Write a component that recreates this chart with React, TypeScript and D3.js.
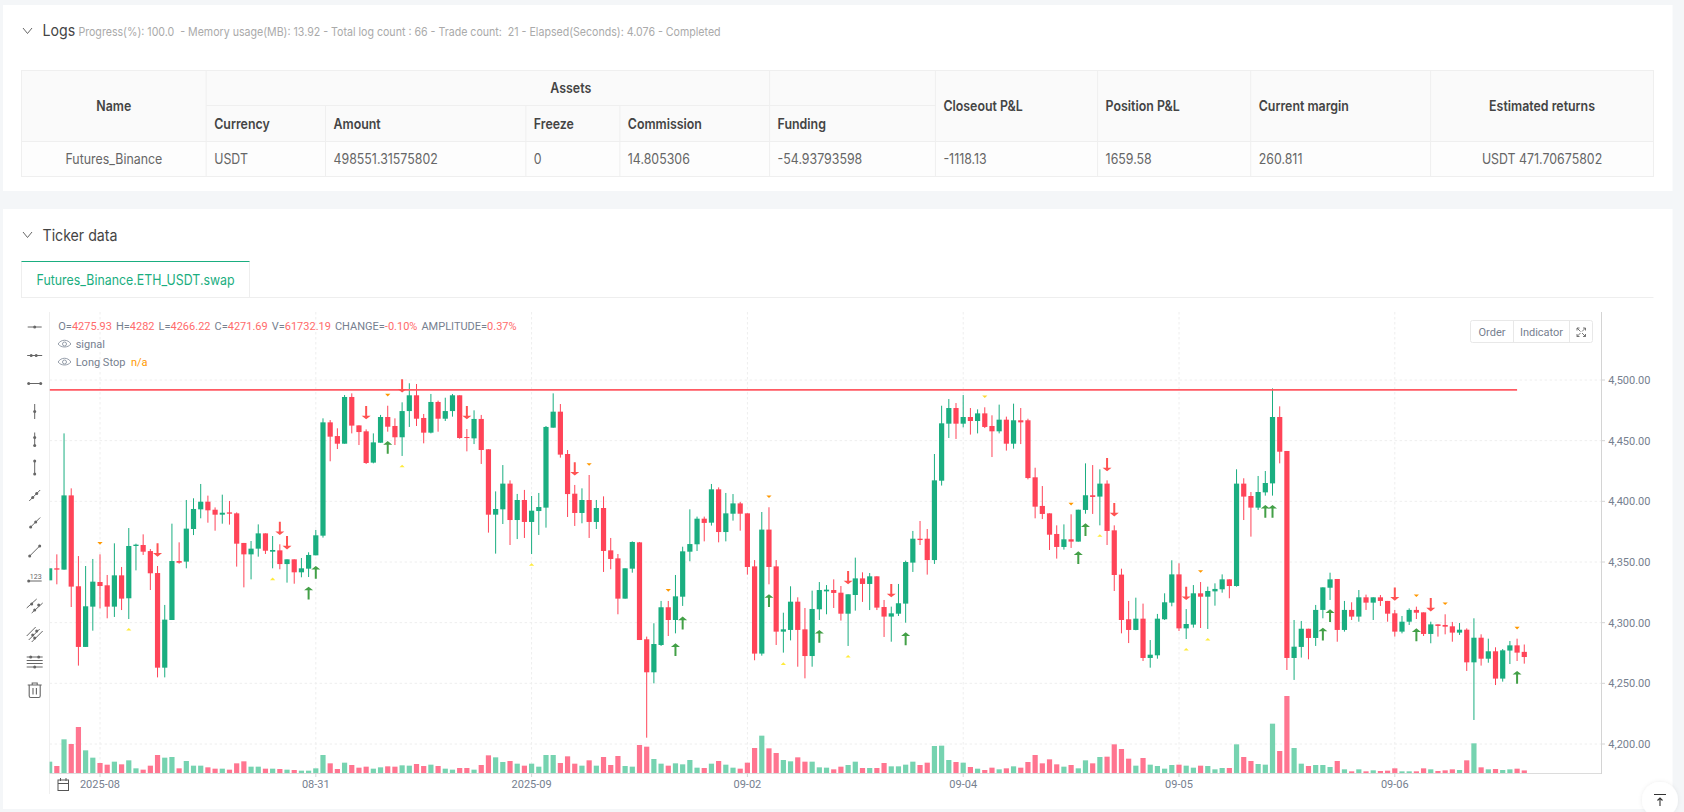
import React, { useEffect } from "react";
import * as d3 from "d3";

const opens = [
4334.9,4344.8,4343.7,4404.9,4330.0,4280.0,4313.2,4333.5,4330.8,4313.2,
4339.0,4320.1,4363.2,4364.0,4359.0,4340.9,4262.9,4302.2,4350.8,4350.3,
4377.2,4393.4,4399.7,4393.1,4389.0,4390.9,4390.1,4365.7,4356.3,4361.0,
4373.6,4358.5,4359.6,4348.3,4352.2,4341.5,4344.5,4355.5,4371.7,4465.1,
4453.8,4447.5,4486.0,4462.6,4457.7,4431.9,4448.3,4469.5,4462.1,4452.8,
4474.4,4487.4,4468.7,4456.6,4481.9,4468.1,4474.4,4487.4,4453.0,4451.9,
4467.9,4442.9,4389.0,4393.4,4414.6,4384.6,4401.1,4383.0,4392.0,4394.8,
4460.7,4473.9,4439.0,4406.3,4390.4,4401.1,4383.0,4394.5,4359.6,4353.0,
4319.8,4344.5,4366.2,4286.3,4259.1,4281.6,4312.7,4302.2,4321.4,4358.5,
4364.6,4385.7,4382.4,4409.9,4374.7,4389.8,4398.3,4390.1,4346.4,4274.5,
4376.7,4346.4,4292.6,4294.0,4317.3,4294.5,4272.5,4311.0,4325.8,4326.9,
4324.7,4307.4,4322.8,4336.5,4331.9,4338.2,4312.9,4305.0,4307.4,4315.7,
4349.5,4369.2,4369.2,4351.6,4417.0,4464.0,4476.9,4464.0,4469.5,4466.2,
4472.5,4462.1,4457.7,4467.3,4447.5,4466.8,4466.8,4419.8,4396.2,4390.1,
4373.1,4362.4,4368.7,4366.8,4392.9,4405.0,4403.9,4414.6,4376.1,4339.6,
4302.8,4294.0,4303.3,4270.9,4273.1,4302.8,4316.5,4339.8,4295.3,4298.4,
4324.2,4321.4,4325.8,4327.5,4335.7,4330.2,4414.6,4404.4,4394.8,4407.4,
4414.8,4469.5,4441.5,4270.9,4280.0,4295.0,4287.4,4310.5,4328.8,4336.0,
4294.0,4310.5,4305.0,4320.9,4316.5,4320.9,4317.9,4307.7,4292.6,4300.8,
4310.5,4308.5,4290.7,4298.6,4298.1,4297.0,4291.8,4294.2,4267.3,4287.6,
4270.3,4276.4,4253.9,4277.0,4281.3,4275.93];

const closes = [
4344.8,4343.7,4404.9,4329.7,4280,4313.5,4333.8,4330.2,4313.2,4339,
4319.8,4363.2,4364.3,4358.5,4340.7,4262.9,4302.5,4350.8,4349.4,4377.5,
4393.7,4399.7,4392.6,4389,4390.6,4389.8,4365.1,4356.3,4361,4373.6,
4359.3,4359.9,4348.3,4352.2,4341.5,4344.8,4355.8,4372,4465.1,4453.3,
4447.5,4486,4462.4,4457.1,4431.6,4448.6,4469.5,4461.5,4452.8,4474.4,
4487.4,4468.1,4456.6,4481.9,4468.1,4474.4,4487.4,4452.2,4452.2,4467.9,
4442.3,4389,4393.7,4414.6,4384.6,4401.1,4383,4392.3,4395.3,4461.3,
4473.9,4438.5,4406,4390.4,4401.1,4383,4394.5,4359.1,4352.5,4319.8,
4344.8,4366.5,4285.7,4259.1,4282.4,4312.7,4302.2,4321.7,4358.8,4364.8,
4385.7,4382.2,4409.9,4374.7,4390.1,4398.3,4389.8,4345.9,4274.5,4376.7,
4345.9,4292.6,4294.5,4317.3,4294,4272.5,4311.3,4326.9,4327.2,4324.5,
4307.4,4323.4,4336.5,4331.9,4338.2,4312.4,4305,4307.7,4316,4350,
4369.2,4368.1,4351.6,4417.3,4464.3,4476.9,4464,4469.5,4466.2,4472.5,
4461.3,4457.7,4467.3,4447.5,4466.8,4465.1,4419.2,4395.6,4389.6,4372.5,
4362.4,4368.7,4366.8,4393.1,4405,4403.6,4414.6,4375.6,4339.3,4302.2,
4294,4303.3,4270.9,4273.6,4303.3,4316.8,4339.8,4295.3,4298.9,4324.2,
4321.4,4326.1,4327.8,4335.7,4330.2,4414.6,4403.9,4394.8,4407.7,4415.1,
4469.5,4440.9,4270.9,4280.2,4295,4287.4,4310.5,4329.1,4335.7,4294,
4310.5,4305,4320.9,4316.5,4320.9,4317.9,4307.4,4292.6,4300.8,4310.5,
4308.2,4290.7,4298.6,4297.3,4296.7,4291.8,4294.2,4267.3,4287.6,4270.3,
4276.4,4253.9,4277.2,4281.3,4275.3,4271.69];

const highs = [
4344.8,4356.3,4456,4410.7,4354.9,4346.7,4352.5,4356.3,4339.3,4365.4,
4345.9,4378,4365.1,4372.8,4360.7,4346.7,4314.6,4381.6,4366.2,4401.1,
4402.5,4414.3,4404.7,4395,4405.5,4400.3,4390.9,4365.7,4367.3,4381,
4373.6,4371.4,4364.6,4352.2,4352.2,4353.3,4358,4376.4,4468.4,4467,
4460.2,4487.6,4489,4462.6,4459.3,4456,4471.2,4478.8,4468.4,4481.6,
4497.3,4496.7,4472,4488.5,4483,4485.4,4488.5,4487.4,4459.6,4475,
4471.2,4442.9,4408.2,4429.9,4417.3,4406.1,4409.4,4404.4,4406.9,4462.1,
4489,4480.2,4442.3,4413.5,4410.7,4421.7,4401.1,4404.1,4369.8,4356.6,
4344.8,4367,4366.5,4288.5,4299.5,4317.9,4317.9,4339.3,4362.6,4393.4,
4387.4,4387.4,4414.3,4411.5,4406.9,4406,4399.5,4390.1,4351.6,4391.2,
4395.1,4351.6,4308.2,4330,4320.9,4312.1,4326.4,4333.5,4331,4335.7,
4330.2,4323.4,4353.6,4341.5,4340.9,4338.2,4318.7,4313.2,4331.9,4351.1,
4375.6,4383.8,4377.2,4439,4478.8,4484.3,4481,4487.6,4476.9,4475.8,
4477.5,4470.9,4479.7,4469.8,4480.5,4476.9,4468.1,4427.7,4412.6,4390.1,
4380.2,4381,4389.3,4393.1,4431.3,4429.9,4426.4,4417.3,4380.2,4344.5,
4317.9,4320.6,4315.7,4285.7,4307.2,4324.2,4351.4,4348.9,4311.2,4331,
4333.5,4329.7,4332.4,4339.8,4335.7,4426.4,4419,4407.7,4420.9,4425,
4493.1,4478.3,4441.5,4302.2,4301.4,4295,4314.6,4329.1,4341.2,4336,
4317.9,4316.8,4326.9,4323.1,4320.9,4322.8,4317.9,4310.5,4305.5,4311.8,
4313.2,4308.5,4300.8,4298.6,4306.9,4300.6,4299.7,4295.3,4303.6,4290.4,
4286.8,4279.7,4278.3,4284.9,4286.8,4282];

const lows = [
4334.9,4331.6,4343.7,4312.9,4264.6,4280,4293.4,4311.8,4303.6,4304.7,
4310.4,4303,4343.1,4355.8,4326.9,4254.9,4254.9,4302.2,4348.6,4344.8,
4372.2,4386,4382.4,4375.8,4381.6,4380.8,4346.2,4329.1,4335.7,4354.4,
4356.6,4344.8,4344,4333,4332.1,4337.4,4337.6,4355.5,4370.1,4433,
4443.1,4447.5,4456,4446.4,4430.8,4431.3,4448.3,4457.4,4446.4,4437.4,
4461.3,4462.1,4447.8,4456,4457.4,4466.2,4469.8,4451.6,4441.2,4447.2,
4430.8,4374.2,4356.9,4381.3,4364,4368.9,4369.8,4356.6,4372.3,4378.3,
4460.7,4436,4387.1,4379.7,4381.9,4369.8,4377.2,4341.8,4344,4306.9,
4319.8,4341.2,4285.7,4205.2,4250,4280.8,4289,4291.2,4313.8,4350.6,
4359.1,4367,4380,4366.2,4367,4384.1,4375.8,4339.6,4269,4272.8,
4331.6,4281.6,4275.3,4285.4,4263.7,4254.1,4263.7,4302.2,4306.9,4312.1,
4301.7,4280.8,4309.9,4317.1,4310.4,4310.4,4288.2,4284.3,4305.5,4300,
4341.8,4364,4339.6,4348.4,4413,4452.2,4451.4,4461,4455,4456,
4460.4,4436.5,4456,4441.8,4443.4,4447.2,4418.1,4386,4385.4,4359.9,
4352.8,4360.2,4361.6,4366.8,4389.8,4389.6,4380.2,4364,4326.1,4291.2,
4283.2,4293.7,4268.4,4262.9,4270.3,4302.2,4313.5,4293.1,4286.5,4295.9,
4295.6,4294.8,4314,4324.7,4320.1,4329.7,4384.6,4370.9,4392.9,4404.7,
4404.7,4431.3,4261,4252.8,4271.2,4269.8,4280.8,4303.6,4318.7,4284.3,
4292.6,4302.2,4300.8,4310.5,4302.2,4313.8,4300.8,4288.5,4291.2,4298.1,
4303,4289,4283,4288.5,4290.4,4284.3,4289.9,4260.2,4219.8,4264.6,
4267,4248.6,4251.4,4265.9,4268.4,4266.22];

// thousands
const volumes = [
272,168,808,696,1104,544,368,240,200,272,
208,304,112,80,176,432,368,384,112,288,
176,176,136,104,104,80,232,280,152,152,
104,104,96,80,72,56,56,112,432,232,
96,248,192,128,152,104,136,160,152,184,
176,216,168,200,168,104,80,120,120,80,
192,424,376,264,288,224,176,224,152,432,
432,240,400,224,176,304,176,384,192,408,
168,152,672,632,336,224,176,232,208,312,
128,120,224,288,200,128,104,248,600,896,
592,480,312,280,376,272,272,136,128,88,
152,192,272,120,120,120,240,160,160,200,
272,192,248,648,656,312,264,248,144,104,
72,128,88,112,160,128,264,432,232,328,
208,152,192,112,304,232,384,392,688,576,
344,176,360,200,168,104,192,200,176,128,
176,168,88,120,120,688,384,288,216,200,
1184,528,1848,600,224,168,192,192,144,288,
88,40,88,40,64,48,56,112,40,40,
40,112,88,48,64,88,72,304,712,136,
88,96,72,88,104,62];

const downArrows: [number, number][] = [[15,4354.4],[32,4372.2],[33,4360.4],[44,4467.6],[49,4489.6],[58,4467.6],[73,4421.2],[111,4331.6],[117,4320.9],[147,4424.7],[148,4387.6],[158,4318.7],[187,4318.1],[192,4309.3]];
const upArrows: [number, number][] = [[36,4329.7],[37,4346.7],[47,4449.7],[87,4283],[88,4305],[100,4323.4],[107,4294],[119,4292],[143,4358.8],[144,4381.9],[169,4397],[170,4397],[177,4295.9],[178,4311],[190,4295.3],[204,4260.2]];
const orangeMarks: [number, number][] = [[7,4365.4],[47,4487.6],[75,4430.5],[86,4326.7],[100,4403.8],[142,4397.8],[160,4342.3],[190,4322.3],[194,4315.7],[204,4295.6]];
const goldMarks: [number, number][] = [[130,4486.3]];
const yellowMarks: [number, number][] = [[11,4294.5],[31,4336],[49,4429.1],[67,4347.8],[102,4266.2],[111,4272.3],[146,4371.7],[158,4278],[161,4286.3]];
const longStopPrice = 4491.8;
const longStopEnd = 204;

const priceTicks = [4200, 4250, 4300, 4350, 4400, 4450, 4500];
const timeTicks: [number, string][] = [[7,"2025-08"],[37,"08-31"],[67,"2025-09"],[97,"09-02"],[127,"09-04"],[157,"09-05"],[187,"09-06"]];

const legendPairs: [string, string][] = [["O=","4275.93"],["H=","4282"],["L=","4266.22"],["C=","4271.69"],["V=","61732.19"],["CHANGE=","-0.10%"],["AMPLITUDE=","0.37%"]];

const tableColumns = [21.5, 206.2, 325.5, 525.8, 619.8, 769.6, 935.4, 1097.6, 1250.7, 1430.6, 1653.5];
const subHeaders = ["Currency", "Amount", "Freeze", "Commission", "Funding"];
const rowCells = ["USDT", "498551.31575802", "0", "14.805306", "-54.93793598", "-1118.13", "1659.58", "260.811"];
const sideHeaders = ["Closeout P&L", "Position P&L", "Current margin"];

const UP = "#1aae80", DOWN = "#ff4458", UPV = "#76d3b0", DOWNV = "#ff7590";
const AXIS = "#76808f", GRID = "#eeeeee";
const F = "Inter, sans-serif", R = "Roboto, sans-serif";

const x = d3.scaleLinear().domain([7, 187]).range([100, 1394.8]);
const y = d3.scaleLinear().domain([4200, 4500]).range([744, 380]);
const yVol = d3.scaleLinear().domain([0, 2400]).range([773, 673]);
const fmtPrice = d3.format(",.2f");

// The page text is a narrowed Inter: same height, 0.885 of the width.
function T({ x: tx, y: ty, anchor, children, ...rest }: any) {
  return (
    <text transform={`translate(${tx},${ty}) scale(0.885,1)`} textAnchor={anchor} {...rest}>{children}</text>
  );
}

function Tool({ kind, cy }: { kind: number; cy: number }) {
  const c = "#666";
  const dot = (dx: number, dy: number, k: number) => <circle key={k} cx={dx} cy={dy} r={1.5} fill={c} />;
  const ln = (a: number, b: number, e: number, f: number, k: number, w = 1) => <line key={k} x1={a} y1={b} x2={e} y2={f} stroke={c} strokeWidth={w} />;
  let kids: any[] = [];
  if (kind === 0) kids = [ln(-7, 0, 7, 0, 0), dot(0, 0, 1)];
  if (kind === 1) kids = [ln(-7.5, 0, 7.5, 0, 0), dot(-3.5, 0, 1), dot(1.5, 0, 2)];
  if (kind === 2) kids = [ln(-6, 0, 6, 0, 0), dot(-6, 0, 1), dot(6, 0, 2)];
  if (kind === 3) kids = [ln(0, -7.5, 0, 7.5, 0), dot(0, 0, 1)];
  if (kind === 4) kids = [ln(0, -7, 0, 7, 0), dot(0, -2, 1), dot(0, 6, 2)];
  if (kind === 5) kids = [ln(0, -6.5, 0, 6.5, 0), dot(0, -6.5, 1), dot(0, 6.5, 2)];
  if (kind === 6) kids = [ln(-5.5, 5.5, 5.5, -5.5, 0), dot(-2, 2, 1), dot(2, -2, 2)];
  if (kind === 7) kids = [ln(-5, 5, 5.5, -5.5, 0), dot(-4, 4, 1), dot(1, -1, 2)];
  if (kind === 8) kids = [ln(-5, 5, 5, -5, 0), dot(-5, 5, 1), dot(5, -5, 2)];
  if (kind === 9) kids = [ln(-6, 3, 7, 3, 0), dot(-6, 3, 1), <text key={2} x={1} y={1} fontSize={7} textAnchor="middle" fontFamily={R} fill={c}>123</text>];
  if (kind === 10) kids = [ln(-8, 2, 2, -7, 0), ln(-3, 7, 8, -3, 1), dot(-3, -2, 2), dot(4, -1, 3), dot(0, 4, 4)];
  if (kind === 11) kids = [ln(-8, 2, 1, -7, 0), ln(-6, 6, 5, -5, 1), ln(-3, 8, 8, -3, 2), dot(-2, 1, 3), dot(2, -3, 4), dot(0, 4, 5)];
  if (kind === 12) kids = [ln(-8, -5, 8, -5, 0), ln(-8, -1.5, 8, -1.5, 1), ln(-8, 1.5, 8, 1.5, 2), ln(-8, 5, 8, 5, 3), dot(-4, -5, 4), dot(4, -5, 5), dot(0, 5, 6)];
  if (kind === 13) kids = [
    <path key={0} d="M-7 -5H7M-2.5 -5V-7H2.5V-5M-5.5 -5V6a1.5 1.5 0 0 0 1.5 1.5H4a1.5 1.5 0 0 0 1.5 -1.5V-5M-1.7 -2V4.5M1.7 -2V4.5" fill="none" stroke={c} strokeWidth={1.1} />,
  ];
  return <g transform={`translate(34.7,${cy})`}>{kids}</g>;
}

function Eye({ cx, cy }: { cx: number; cy: number }) {
  return (
    <g transform={`translate(${cx},${cy})`} fill="none" stroke="#8a93a0" strokeWidth={0.9}>
      <path d="M-6.4 0C-3.5 -5 3.5 -5 6.4 0C3.5 4 -3.5 4 -6.4 0Z" />
      <circle r={2} />
    </g>
  );
}

export default function App() {
  useEffect(() => { document.body.style.margin = "0"; }, []);
  const tcx = (a: number, b: number) => (tableColumns[a] + tableColumns[b]) / 2;
  return (
    <svg width={1684} height={812} viewBox="0 0 1684 812" style={{ display: "block", position: "fixed", left: 0, top: 0 }}>
      <defs>
        <clipPath id="pane"><rect x={49.6} y={312} width={1551.7} height={462} /></clipPath>
        <filter id="sh" x="-30%" y="-30%" width="160%" height="160%"><feDropShadow dx={0} dy={0} stdDeviation={2} floodColor="#000" floodOpacity={0.08} /></filter>
      </defs>
      <rect width={1684} height={812} fill="#f4f6f8" />
      <rect x={3} y={5} width={1669.5} height={186} fill="#fff" />
      <rect x={3} y={209} width={1669.5} height={600} fill="#fff" />

      {/* Logs header */}
      <path d="M23 28l4.5 5.5L32 28" fill="none" stroke="#555" strokeWidth={0.9} />
      <T x={42.5} y={36} fontFamily={F} fontSize={16} fill="#444">Logs</T>
      <T x={78.4} y={35.5} fontFamily={F} fontSize={12} fill="#aaa" xmlSpace="preserve">{"Progress(%): 100.0  - Memory usage(MB): 13.92 - Total log count : 66 - Trade count:  21 - Elapsed(Seconds): 4.076 - Completed"}</T>

      {/* table */}
      <rect x={21.5} y={70.3} width={1632} height={71} fill="#fafafa" />
      <rect x={21.5} y={141.3} width={1632} height={35} fill="#fdfdfd" />
      <g stroke="#efefef" strokeWidth={1}>
        <rect x={21.5} y={70.5} width={1632} height={106} fill="none" />
        <line x1={206.2} x2={935.4} y1={105.5} y2={105.5} />
        <line x1={21.5} x2={1653.5} y1={141.5} y2={141.5} />
        {tableColumns.slice(1, -1).map((c, i) => (
          <line key={i} x1={c} x2={c} y1={i >= 1 && i <= 3 ? 105.5 : 70.5} y2={176.5} />
        ))}
      </g>
      <g fontFamily={F} fontSize={14} fontWeight={600} fill="#444">
        <T x={tcx(0, 1)} y={110.5} anchor="middle">Name</T>
        <T x={tcx(1, 6)} y={92.5} anchor="middle">Assets</T>
        {subHeaders.map((s, i) => <T key={s} x={tableColumns[i + 1] + 8} y={128.5}>{s}</T>)}
        {sideHeaders.map((s, i) => <T key={s} x={tableColumns[i + 6] + 8} y={110.5}>{s}</T>)}
        <T x={tcx(9, 10)} y={110.5} anchor="middle">Estimated returns</T>
      </g>
      <g fontFamily={F} fontSize={14} fill="#666">
        <T x={tcx(0, 1)} y={163.5} anchor="middle">Futures_Binance</T>
        {rowCells.map((s, i) => <T key={i} x={tableColumns[i + 1] + 8} y={163.5}>{s}</T>)}
        <T x={tcx(9, 10)} y={163.5} anchor="middle">USDT 471.70675802</T>
      </g>

      {/* Ticker header */}
      <path d="M23 232l4.5 5.5L32 232" fill="none" stroke="#555" strokeWidth={0.9} />
      <T x={42.5} y={240.5} fontFamily={F} fontSize={16} fill="#444">Ticker data</T>
      <line x1={21.5} x2={1653.5} y1={297.5} y2={297.5} stroke="#eee" />
      <rect x={21.5} y={261.5} width={228} height={36} fill="#fff" stroke="#eee" />
      <line x1={21.5} x2={249.5} y1={261.5} y2={261.5} stroke="#1aae80" strokeWidth={1} />
      <T x={36.5} y={285} fontFamily={F} fontSize={14} fill="#1aae80">Futures_Binance.ETH_USDT.swap</T>

      {/* toolbar */}
      {d3.range(14).map((k) => <Tool key={k} kind={k} cy={[327, 355.5, 383.5, 411.5, 439.5, 467.5, 495.5, 523, 551, 578, 606, 634, 662, 690][k]} />)}

      {/* grid */}
      <g stroke={GRID} strokeWidth={1} strokeDasharray="2.5 2.5">
        {priceTicks.map((p) => <line key={p} x1={49.6} x2={1601} y1={y(p)} y2={y(p)} />)}
        {timeTicks.map(([i]) => <line key={i} x1={x(i)} x2={x(i)} y1={312} y2={773} />)}
      </g>
      <line x1={49.5} x2={49.5} y1={312} y2={794} stroke="#efefef" />
      <line x1={49.5} x2={1601.5} y1={773.5} y2={773.5} stroke="#dcdcdc" />
      <line x1={1601.5} x2={1601.5} y1={312} y2={774} stroke="#d4d4d4" />

      {/* axes */}
      <g fontFamily={R} fontSize={11} fill={AXIS}>
        {priceTicks.map((p) => (
          <g key={p}>
            <line x1={1601.5} x2={1605} y1={y(p)} y2={y(p)} stroke="#d4d4d4" />
            <text x={1608.3} y={y(p) + 4}>{fmtPrice(p)}</text>
          </g>
        ))}
        {timeTicks.map(([i, s]) => (
          <g key={i}>
            <line x1={x(i)} x2={x(i)} y1={773} y2={777} stroke="#d4d4d4" />
            <text x={x(i)} y={788} textAnchor="middle">{s}</text>
          </g>
        ))}
      </g>
      {/* calendar */}
      <g fill="none" stroke="#555" strokeWidth={1}>
        <rect x={58} y={780} width={10.5} height={10.5} />
        <path d="M58 783.5H68.5M60.5 778V781M66 778V781" />
      </g>

      {/* marks */}
      <g clipPath="url(#pane)">
        {volumes.map((v, i) => {
          const up = closes[i] >= opens[i];
          return <rect key={i} x={x(i) - 2.6} width={5.2} y={yVol(v)} height={yVol(0) - yVol(v)} fill={up ? UPV : DOWNV} />;
        })}
        {opens.map((o, i) => {
          const c = closes[i];
          const up = c >= o;
          const col = up ? UP : DOWN;
          const top = y(Math.max(o, c));
          const bot = y(Math.min(o, c));
          return (
            <g key={i}>
              <line x1={x(i)} x2={x(i)} y1={y(highs[i])} y2={y(lows[i])} stroke={col} strokeWidth={1} />
              <rect x={x(i) - 2.6} width={5.2} y={top} height={Math.max(1, bot - top)} fill={col} />
            </g>
          );
        })}
        <line x1={x(0)} x2={x(longStopEnd)} y1={y(longStopPrice)} y2={y(longStopPrice)} stroke="#ff5a63" strokeWidth={1.8} />
        {downArrows.map(([i, p], k) => (
          <path key={k} transform={`translate(${x(i)},${y(p)})`} d="M-1 -13.3H1V-3.6H4.5L0 0L-4.5 -3.6H-1Z" fill="#ff5252" />
        ))}
        {upArrows.map(([i, p], k) => (
          <path key={k} transform={`translate(${x(i)},${y(p)})`} d="M-1 12.8H1V3.6H4.5L0 0L-4.5 3.6H-1Z" fill="#43a047" />
        ))}
        {orangeMarks.map(([i, p], k) => (
          <path key={k} transform={`translate(${x(i)},${y(p)})`} d="M-2.6 -1.2H2.6L0 1.4Z" fill="#ff9800" />
        ))}
        {goldMarks.map(([i, p], k) => (
          <path key={k} transform={`translate(${x(i)},${y(p)})`} d="M-2.6 -1.2H2.6L0 1.4Z" fill="#fdd835" />
        ))}
        {yellowMarks.map(([i, p], k) => (
          <path key={k} transform={`translate(${x(i)},${y(p)})`} d="M-2.6 1.2H2.6L0 -1.4Z" fill="#ffeb3b" />
        ))}
      </g>

      {/* legend */}
      <text x={58.3} y={330} fontFamily={R} fontSize={11} fill={AXIS}>
        {legendPairs.map(([k, v], i) => (
          <tspan key={k} dx={i ? 4 : 0}>{k}<tspan fill="#ff6b6b">{v}</tspan></tspan>
        ))}
      </text>
      <Eye cx={64.5} cy={344} />
      <text x={75.7} y={348.2} fontFamily={R} fontSize={11} fill={AXIS}>signal</text>
      <Eye cx={64.5} cy={362} />
      <text x={75.7} y={366.2} fontFamily={R} fontSize={11} fill={AXIS}>Long Stop</text>
      <text x={131} y={366.2} fontFamily={R} fontSize={11} fill="#ff9800">n/a</text>

      {/* buttons */}
      <rect x={1470.5} y={320.5} width={122} height={22} rx={2} fill="#fff" stroke="#e8e8e8" />
      <line x1={1513.5} x2={1513.5} y1={320.5} y2={342.5} stroke="#e8e8e8" />
      <line x1={1569.5} x2={1569.5} y1={320.5} y2={342.5} stroke="#e8e8e8" />
      <text x={1492} y={335.5} textAnchor="middle" fontFamily={R} fontSize={11} fill={AXIS}>Order</text>
      <text x={1541.5} y={335.5} textAnchor="middle" fontFamily={R} fontSize={11} fill={AXIS}>Indicator</text>
      <path d="M1577 328l3.5 3.5M1577 328h2.5M1577 328v2.5M1585.5 336.5l-3.5 -3.5M1585.5 336.5h-2.5M1585.5 336.5v-2.5M1585.5 328l-3.5 3.5M1585.5 328h-2.5M1585.5 328v2.5M1577 336.5l3.5 -3.5M1577 336.5h2.5M1577 336.5v-2.5" fill="none" stroke="#666" strokeWidth={0.9} />

      {/* back-to-top */}
      <circle cx={1660} cy={800} r={18} fill="#fff" filter="url(#sh)" />
      <path d="M1654 794.5H1666M1660 806V798M1657.5 800.5L1660 798L1662.5 800.5" fill="none" stroke="#333" strokeWidth={1.1} />
    </svg>
  );
}
